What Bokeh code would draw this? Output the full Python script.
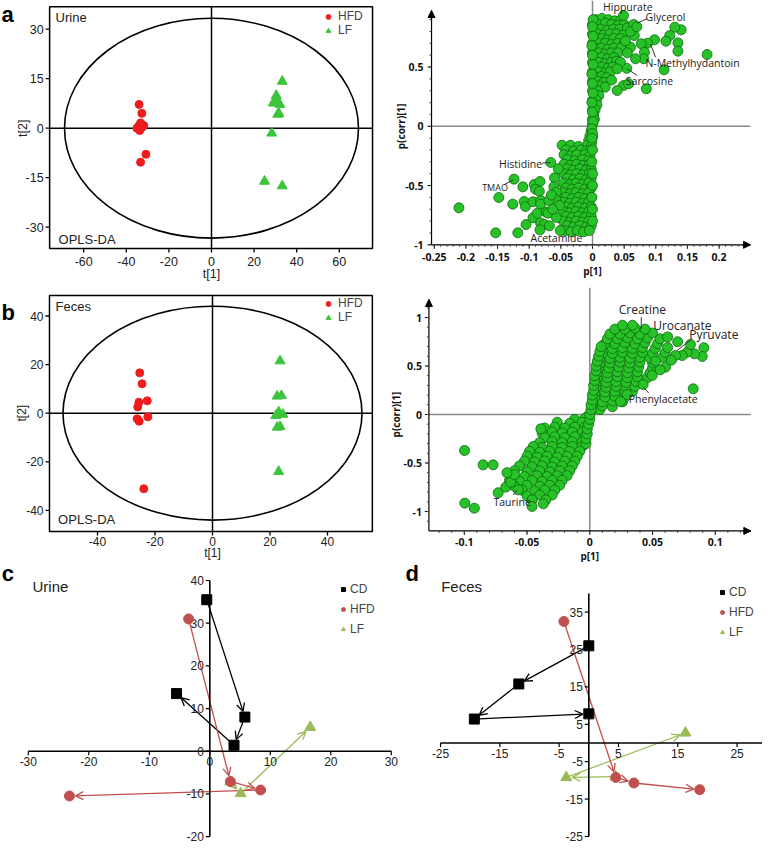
import math
from bokeh.plotting import figure
from bokeh.layouts import row, column
from bokeh.models import Range1d, Legend, LegendItem, Arrow, OpenHead, NormalHead
from bokeh.core.properties import value
from bokeh.embed import file_html
from bokeh.resources import INLINE

ARIAL = "Liberation Sans"
SEGOE = "Open Sans"

# ---------------- DATA ----------------
# (a) Urine OPLS-DA scores
urine_hfd_t1 = [-34.0, -32.7, -33.3, -31.8, -35.0, -33.7, -32.5, -30.8, -33.3, -34.2]
urine_hfd_t2 = [7.2, 4.5, 1.6, 0.8, 0.0, -0.7, 0.3, -7.9, -10.3, 0.6]
urine_lf_t1 = [33.2, 30.4, 29.0, 32.1, 31.1, 31.6, 28.3, 24.9, 33.2, 30.6]
urine_lf_t2 = [14.2, 9.9, 7.6, 7.2, 4.2, 4.5, -1.5, -16.1, -17.5, 8.6]
# (b) Feces OPLS-DA scores
feces_hfd_t1 = [-25.3, -24.5, -25.6, -22.7, -26.0, -22.5, -26.2, -25.5, -23.9]
feces_hfd_t2 = [16.6, 12.1, 4.5, 5.1, 2.6, -1.5, -2.3, -3.3, -31.1]
feces_lf_t1 = [23.5, 22.5, 24.0, 23.0, 24.5, 22.0, 23.5, 22.5, 23.0]
feces_lf_t2 = [21.5, 7.0, 7.2, 0.5, -0.5, -1.0, -5.5, -5.8, -24.0]

# S-plot urine (p[1], p(corr)[1])
splot_u_pos = [
    (0.005, 0.90), (0.015, 0.91), (0.025, 0.90), (0.035, 0.89), (0.045, 0.90),
    (0.0, 0.86), (0.01, 0.86), (0.02, 0.87), (0.03, 0.86), (0.04, 0.85), (0.05, 0.86),
    (0.003, 0.82), (0.013, 0.82), (0.023, 0.81), (0.033, 0.82), (0.043, 0.82), (0.055, 0.83),
    (0.0, 0.78), (0.008, 0.78), (0.018, 0.77), (0.028, 0.78), (0.038, 0.78), (0.048, 0.77),
    (0.004, 0.74), (0.014, 0.74), (0.024, 0.73), (0.034, 0.74), (0.044, 0.74),
    (0.0, 0.70), (0.01, 0.70), (0.02, 0.70), (0.03, 0.69), (0.04, 0.70), (0.05, 0.70),
    (0.004, 0.66), (0.014, 0.66), (0.024, 0.65), (0.034, 0.66), (0.045, 0.66),
    (0.0, 0.62), (0.01, 0.62), (0.02, 0.61), (0.03, 0.62), (0.04, 0.62),
    (0.004, 0.58), (0.014, 0.58), (0.024, 0.57), (0.034, 0.58),
    (0.0, 0.54), (0.01, 0.54), (0.02, 0.53), (0.03, 0.54), (0.038, 0.55),
    (0.004, 0.50), (0.014, 0.50), (0.024, 0.49), (0.032, 0.50),
    (0.0, 0.46), (0.01, 0.46), (0.02, 0.45), (0.028, 0.46),
    (0.004, 0.42), (0.014, 0.42), (0.022, 0.41),
    (0.0, 0.38), (0.008, 0.38), (0.018, 0.37), (0.03, 0.39),
    (0.004, 0.34), (0.012, 0.34), (0.02, 0.33),
    (0.0, 0.30), (0.008, 0.30), (0.003, 0.26), (0.01, 0.26),
    (0.0, 0.22), (0.006, 0.22), (0.002, 0.18), (0.007, 0.18),
    (0.0, 0.14), (0.004, 0.14), (0.002, 0.10), (0.0, 0.06), (0.003, 0.06), (0.0, 0.02),
]
splot_u_neg = [
    (-0.002, -0.04), (-0.004, -0.08), (0.0, -0.09), (-0.006, -0.12), (-0.001, -0.13),
    (-0.048, -0.16), (-0.035, -0.16), (-0.022, -0.17), (-0.008, -0.16), (-0.002, -0.17),
    (-0.042, -0.20), (-0.03, -0.21), (-0.018, -0.20), (-0.01, -0.21), (-0.003, -0.20),
    (-0.045, -0.24), (-0.035, -0.25), (-0.025, -0.24), (-0.012, -0.24), (-0.004, -0.25),
    (-0.04, -0.28), (-0.028, -0.29), (-0.016, -0.28), (-0.006, -0.29),
    (-0.045, -0.32), (-0.035, -0.33), (-0.025, -0.32), (-0.015, -0.33), (-0.005, -0.32),
    (-0.04, -0.36), (-0.03, -0.37), (-0.02, -0.36), (-0.01, -0.37), (-0.002, -0.36),
    (-0.045, -0.40), (-0.035, -0.41), (-0.025, -0.40), (-0.015, -0.41), (-0.005, -0.40),
    (-0.04, -0.44), (-0.03, -0.45), (-0.02, -0.44), (-0.01, -0.45), (-0.002, -0.44),
    (-0.046, -0.48), (-0.036, -0.49), (-0.026, -0.48), (-0.016, -0.49), (-0.006, -0.48),
    (-0.042, -0.52), (-0.032, -0.53), (-0.022, -0.52), (-0.012, -0.53), (-0.002, -0.52),
    (-0.046, -0.56), (-0.036, -0.57), (-0.026, -0.56), (-0.016, -0.57), (-0.006, -0.56),
    (-0.042, -0.60), (-0.032, -0.61), (-0.022, -0.60), (-0.012, -0.61), (-0.002, -0.60),
    (-0.046, -0.64), (-0.036, -0.65), (-0.026, -0.64), (-0.016, -0.65), (-0.006, -0.64),
    (-0.042, -0.68), (-0.032, -0.69), (-0.022, -0.68), (-0.012, -0.69), (-0.002, -0.68),
    (-0.046, -0.72), (-0.036, -0.73), (-0.026, -0.72), (-0.016, -0.73), (-0.006, -0.72),
    (-0.042, -0.76), (-0.032, -0.77), (-0.022, -0.76), (-0.012, -0.77), (-0.002, -0.76),
    (-0.046, -0.80), (-0.036, -0.81), (-0.026, -0.80), (-0.016, -0.81), (-0.006, -0.80),
    (-0.04, -0.84), (-0.03, -0.85), (-0.02, -0.84), (-0.01, -0.85), (-0.002, -0.84),
    (-0.044, -0.88), (-0.034, -0.89), (-0.024, -0.88), (-0.014, -0.89), (-0.005, -0.88),
]
splot_u_core = [
    (0.001, 0.90), (0.0, 0.84), (0.001, 0.76), (-0.001, 0.68), (0.0, 0.60), (0.001, 0.52),
    (-0.001, 0.44), (0.0, 0.36), (0.001, 0.28), (-0.001, 0.20), (0.0, 0.12), (0.001, 0.04),
    (-0.001, -0.02), (0.0, -0.06), (-0.001, -0.10), (0.0, -0.2), (-0.001, -0.3), (0.0, -0.4),
    (0.0, -0.5), (-0.001, -0.6), (0.0, -0.7), (0.0, -0.8),
]
splot_u_out = [
    (-0.211, -0.688), (-0.124, -0.446), (-0.148, -0.601), (-0.126, -0.657), (-0.110, -0.511),
    (-0.108, -0.635), (-0.106, -0.677), (-0.094, -0.637), (-0.092, -0.491), (-0.083, -0.466),
    (-0.090, -0.531), (-0.084, -0.548), (-0.082, -0.626), (-0.082, -0.657), (-0.153, -0.899),
    (-0.118, -0.899), (-0.105, -0.829), (-0.094, -0.772), (-0.087, -0.733), (-0.073, -0.725),
    (-0.070, -0.733), (-0.082, -0.815), (-0.076, -0.829), (-0.068, -0.840), (-0.083, -0.874),
    (-0.066, -0.305), (-0.060, -0.435), (-0.061, -0.511), (-0.057, -0.556), (-0.058, -0.620),
    (-0.052, -0.668), (-0.054, -0.359), (-0.051, -0.879), (-0.057, -0.770), (-0.069, -0.626),
    (-0.065, -0.580), (-0.063, -0.700),
    (0.181, 0.606), (0.140, 0.814), (0.130, 0.836), (0.122, 0.766), (0.116, 0.718),
    (0.135, 0.704), (0.135, 0.634), (0.113, 0.477), (0.098, 0.730), (0.087, 0.701),
    (0.077, 0.696), (0.082, 0.625), (0.081, 0.570), (0.068, 0.570), (0.066, 0.766),
    (0.065, 0.859), (0.085, 0.316), (0.054, 0.490), (0.049, 0.344), (0.057, 0.359),
    (0.039, 0.302), (0.044, 0.541), (0.039, 0.485), (0.060, 0.667), (0.049, 0.935),
    (0.060, 0.800), (0.070, 0.840), (0.055, 0.620), (0.052, 0.720),
]
splot_u_names = ["Hippurate", "Glycerol", "N-Methylhydantoin", "Sarcosine", "Histidine", "TMAO", "Acetamide"]

# S-plot feces
splot_f_pos = [
    (0.001, 0.03), (0.008, 0.05),
    (0.002, 0.08), (0.01, 0.09), (0.018, 0.08),
    (0.003, 0.13), (0.01, 0.13), (0.018, 0.14), (0.026, 0.13),
    (0.004, 0.18), (0.012, 0.18), (0.02, 0.19), (0.028, 0.18),
    (0.004, 0.23), (0.012, 0.23), (0.02, 0.24), (0.028, 0.23), (0.034, 0.24),
    (0.005, 0.28), (0.013, 0.28), (0.021, 0.29), (0.029, 0.28), (0.036, 0.29),
    (0.005, 0.33), (0.013, 0.33), (0.021, 0.34), (0.029, 0.33), (0.037, 0.34),
    (0.006, 0.38), (0.014, 0.38), (0.022, 0.39), (0.030, 0.38), (0.038, 0.39), (0.046, 0.38),
    (0.006, 0.43), (0.014, 0.43), (0.022, 0.44), (0.030, 0.43), (0.038, 0.44), (0.048, 0.43),
    (0.007, 0.48), (0.015, 0.48), (0.023, 0.49), (0.031, 0.48), (0.039, 0.49), (0.050, 0.48),
    (0.008, 0.53), (0.016, 0.53), (0.024, 0.54), (0.032, 0.53), (0.040, 0.54), (0.050, 0.53),
    (0.008, 0.58), (0.016, 0.58), (0.024, 0.59), (0.032, 0.58), (0.040, 0.59), (0.048, 0.58), (0.058, 0.59),
    (0.010, 0.63), (0.018, 0.63), (0.026, 0.64), (0.034, 0.63), (0.042, 0.64), (0.050, 0.63), (0.060, 0.64),
    (0.010, 0.68), (0.018, 0.68), (0.026, 0.69), (0.034, 0.68), (0.042, 0.69), (0.052, 0.68), (0.062, 0.69),
    (0.012, 0.73), (0.020, 0.73), (0.028, 0.74), (0.036, 0.73), (0.044, 0.74), (0.054, 0.73),
    (0.014, 0.78), (0.022, 0.78), (0.030, 0.79), (0.038, 0.78), (0.046, 0.79), (0.056, 0.78),
    (0.016, 0.83), (0.024, 0.83), (0.032, 0.84), (0.040, 0.83), (0.050, 0.84),
    (0.020, 0.88), (0.028, 0.88), (0.036, 0.89), (0.044, 0.88),
    (0.026, 0.92), (0.034, 0.92),
]
splot_f_neg = [
    (-0.002, -0.02), (-0.004, -0.04), (-0.012, -0.05),
    (-0.006, -0.08), (-0.016, -0.09), (-0.026, -0.08),
    (-0.004, -0.13), (-0.012, -0.13), (-0.020, -0.14), (-0.028, -0.13), (-0.036, -0.14),
    (-0.006, -0.18), (-0.014, -0.18), (-0.022, -0.19), (-0.030, -0.18), (-0.038, -0.19),
    (-0.004, -0.23), (-0.012, -0.23), (-0.020, -0.24), (-0.028, -0.23), (-0.036, -0.24),
    (-0.006, -0.28), (-0.014, -0.28), (-0.022, -0.29), (-0.030, -0.28), (-0.040, -0.29),
    (-0.006, -0.33), (-0.014, -0.33), (-0.022, -0.34), (-0.030, -0.33), (-0.038, -0.34), (-0.045, -0.33),
    (-0.008, -0.38), (-0.016, -0.38), (-0.024, -0.39), (-0.032, -0.38), (-0.040, -0.39), (-0.048, -0.38),
    (-0.010, -0.43), (-0.018, -0.43), (-0.026, -0.44), (-0.034, -0.43), (-0.042, -0.44), (-0.050, -0.43),
    (-0.012, -0.48), (-0.020, -0.48), (-0.028, -0.49), (-0.036, -0.48), (-0.044, -0.49), (-0.052, -0.48),
    (-0.014, -0.53), (-0.022, -0.53), (-0.030, -0.54), (-0.038, -0.53), (-0.046, -0.54), (-0.056, -0.53),
    (-0.016, -0.58), (-0.024, -0.58), (-0.032, -0.59), (-0.040, -0.58), (-0.050, -0.59), (-0.060, -0.58),
    (-0.018, -0.63), (-0.026, -0.63), (-0.034, -0.64), (-0.042, -0.63), (-0.052, -0.64),
    (-0.022, -0.68), (-0.030, -0.68), (-0.038, -0.69), (-0.046, -0.68), (-0.056, -0.69), (-0.064, -0.68),
    (-0.024, -0.73), (-0.032, -0.73), (-0.040, -0.74), (-0.050, -0.73), (-0.060, -0.74),
    (-0.028, -0.78), (-0.036, -0.78), (-0.044, -0.79), (-0.054, -0.78),
    (-0.030, -0.83), (-0.040, -0.83), (-0.050, -0.84),
    (-0.035, -0.88), (-0.046, -0.88),
]
splot_f_core = [
    (-0.003, -0.30), (-0.003, -0.25), (-0.002, -0.20), (-0.002, -0.15), (-0.001, -0.10),
    (0.0, -0.05), (0.0, 0.0), (0.001, 0.05), (0.001, 0.10), (0.002, 0.15), (0.002, 0.20),
    (0.003, 0.25), (0.003, 0.30), (0.004, 0.35), (0.004, 0.40), (0.005, 0.45), (0.005, 0.50),
    (0.006, 0.55), (0.007, 0.60), (0.008, 0.65), (0.009, 0.70),
]
splot_f_out = [
    (-0.0998, -0.371), (-0.0996, -0.914), (-0.092, -0.966), (-0.085, -0.519), (-0.077, -0.519),
    (-0.073, -0.807), (-0.067, -0.749), (-0.063, -0.698), (-0.057, -0.777), (-0.046, -0.880),
    (-0.046, -0.948), (-0.037, -0.921), (-0.039, -0.148), (-0.060, -0.620), (-0.066, -0.600),
    (0.0824, 0.265), (0.0909, 0.688), (0.0896, 0.598), (0.0834, 0.626), (0.0776, 0.642),
    (0.0736, 0.608), (0.0683, 0.608), (0.0802, 0.722), (0.0603, 0.488), (0.0524, 0.550),
    (0.0497, 0.402), (0.0425, 0.309), (0.0298, 0.206), (0.0245, 0.134), (0.070, 0.750),
    (0.062, 0.800), (0.065, 0.560), (0.056, 0.460),
]
splot_f_names = ["Creatine", "Urocanate", "Pyruvate", "Phenylacetate", "Taurine"]

# (c) Urine trajectories (x, y per time point)
traj_u_cd_x = [-0.5, 5.8, 4.0, -5.5]
traj_u_cd_y = [35.5, 8.0, 1.4, 13.5]
traj_u_hfd_x = [-3.5, 3.4, 8.4, -23.2]
traj_u_hfd_y = [31.0, -7.1, -9.1, -10.5]
traj_u_lf_x = [3.4, 5.1, 16.6]
traj_u_lf_y = [-7.2, -9.9, 5.6]
# (d) Feces trajectories
traj_f_cd_x = [0.0, -11.8, -19.3, 0.0]
traj_f_cd_y = [26.0, 15.8, 6.4, 7.8]
traj_f_hfd_x = [-4.2, 4.55, 7.6, 18.7]
traj_f_hfd_y = [32.5, -9.2, -10.7, -12.5]
traj_f_lf_x = [4.5, -3.8, 16.3]
traj_f_lf_y = [-9.0, -9.2, 2.7]

# tick values / labels
score_u_xticks = [-60, -40, -20, 0, 20, 40, 60]
score_u_yticks = [-30, -15, 0, 15, 30]
score_f_xticks = [-40, -20, 0, 20, 40]
score_f_yticks = [-40, -20, 0, 20, 40]
splot_u_xticks = [-0.25, -0.2, -0.15, -0.1, -0.05, 0, 0.05, 0.1, 0.15, 0.2]
splot_u_xlabels = ["-0.25", "-0.2", "-0.15", "-0.1", "-0.05", "0", "0.05", "0.1", "0.15", "0.2"]
splot_u_yticks = [-1, -0.5, 0, 0.5]
splot_u_ylabels = ["-1", "-0.5", "0", "0.5"]
splot_f_xticks = [-0.1, -0.05, 0, 0.05, 0.1]
splot_f_xlabels = ["-0.1", "-0.05", "0", "0.05", "0.1"]
splot_f_yticks = [-1, -0.5, 0, 0.5, 1]
splot_f_ylabels = ["-1", "-0.5", "0", "0.5", "1"]
traj_u_xticks = [-30, -20, -10, 0, 10, 20, 30]
traj_u_yticks = [-20, -10, 0, 10, 20, 30, 40]
traj_f_xticks = [-25, -15, -5, 5, 15, 25]
traj_f_yticks = [-25, -15, -5, 5, 15, 25, 35]
groups = ["CD", "HFD", "LF"]

RED = "#ee1c1c"
GREEN = "#3cc43c"
SG_FILL = "#27c227"
SG_LINE = "#0e6a0e"
C_CD = "#000000"
C_HFD = "#c0504d"
C_LF = "#9bbb59"


def frame_fig(w, h, px0, py0, X0, sx, Y0, sy):
    """Figure whose frame fills the whole canvas; page pixel = X0 + sx*x, Y0 - sy*y."""
    xr = ((px0 - X0) / sx, (px0 + w - X0) / sx)
    yr = ((Y0 - (py0 + h)) / sy, (Y0 - py0) / sy)
    p = figure(width=w, height=h, x_range=Range1d(*xr), y_range=Range1d(*yr),
               x_axis_type=None, y_axis_type=None, output_backend="svg",
               toolbar_location=None, min_border=0)
    p.outline_line_color = None
    return p


def txt(p, xs, ys, texts, size, font=ARIAL, align="center", baseline="middle",
        xo=0, yo=0, bold=False, angle=0.0, color="#222222"):
    p.text(x=xs, y=ys, text=texts, text_align=align, text_baseline=baseline,
           x_offset=xo, y_offset=yo, angle=angle, text_font=value(font),
           text_font_size=size, text_font_style="bold" if bold else "normal",
           text_color=color)


def score_plot(w, h, px0, py0, X0, sx, Y0, sy, box, hx, hy, lx, ly, xt, yt,
               ew, eh, name, name_xy, opls_xy, leg_loc, let, let_xy, xl_off, t1_off, fs):
    p = frame_fig(w, h, px0, py0, X0, sx, Y0, sy)
    xl, xr, yb, yt_ = box
    p.ellipse(x=0, y=0, width=ew, height=eh, fill_color=None, line_color="black", line_width=1.6)
    p.segment(x0=[xl, 0], y0=[0, yb], x1=[xr, 0], y1=[0, yt_], line_color="black", line_width=1.5)
    p.quad(left=xl, right=xr, bottom=yb, top=yt_, fill_color=None, line_color="black", line_width=1.5)
    tl = 4.0
    p.segment(x0=xt, y0=[yb] * len(xt), x1=xt, y1=[yb - tl / sy] * len(xt), line_color="black", line_width=1.3)
    p.segment(x0=[xl] * len(yt), y0=yt, x1=[xl - tl / sx] * len(yt), y1=yt, line_color="black", line_width=1.3)
    txt(p, xt, [yb] * len(xt), [str(t) for t in xt], fs, yo=xl_off)
    txt(p, [xl] * len(yt), yt, [str(t) for t in yt], fs, align="right", xo=-6)
    txt(p, [0], [yb], ["t[1]"], fs, yo=t1_off)
    txt(p, [xl], [0], ["t[2]"], fs, xo=-27, angle=math.pi / 2)
    txt(p, [name_xy[0]], [name_xy[1]], [name], "13px", align="left")
    txt(p, [opls_xy[0]], [opls_xy[1]], ["OPLS-DA"], "13px", align="left")
    txt(p, [let_xy[0]], [let_xy[1]], [let], "22px", align="left", baseline="top", bold=True, color="black")
    r1 = p.scatter(hx, hy, marker="circle", size=8, fill_color=RED, line_color=RED)
    r2 = p.scatter(lx, ly, marker="triangle", size=10, fill_color=GREEN, line_color=GREEN)
    leg = Legend(items=[LegendItem(label="HFD", renderers=[r1]), LegendItem(label="LF", renderers=[r2])],
                 location=leg_loc, glyph_width=12, glyph_height=13, label_height=13,
                 label_standoff=4, spacing=0, padding=0, margin=0,
                 border_line_color=None, background_fill_alpha=0,
                 label_text_font=ARIAL, label_text_font_size="12px")
    p.add_layout(leg)
    return p


def s_plot(w, h, px0, py0, X0, sx, Y0, sy, pts, ax_x, ax_y, x_end, y_top,
           xt, xlab, yt, ylab, xminor, yminor, xlab_off, p1_off, ylab_off, pc_off):
    p = frame_fig(w, h, px0, py0, X0, sx, Y0, sy)
    ytop_fig = (Y0 - py0) / sy
    p.segment(x0=[0, ax_x], y0=[ax_y, 0], x1=[0, x_end], y1=[ytop_fig, 0],
              line_color="#8a8a8a", line_width=1.5)
    p.scatter([q[0] for q in pts], [q[1] for q in pts], marker="circle", size=10,
              fill_color=SG_FILL, line_color=SG_LINE, line_width=0.8)
    p.segment(x0=[ax_x, ax_x], y0=[ax_y, ax_y], x1=[ax_x, x_end], y1=[y_top, ax_y],
              line_color="black", line_width=1.2)
    p.add_layout(Arrow(end=NormalHead(size=7, fill_color="black", line_color="black"),
                       x_start=ax_x, y_start=y_top - 8 / sy, x_end=ax_x, y_end=y_top,
                       line_color="black", line_width=1.2))
    p.add_layout(Arrow(end=NormalHead(size=7, fill_color="black", line_color="black"),
                       x_start=x_end - 8 / sx, y_start=ax_y, x_end=x_end, y_end=ax_y,
                       line_color="black", line_width=1.2))
    p.segment(x0=xt, y0=[ax_y] * len(xt), x1=xt, y1=[ax_y - 4 / sy] * len(xt), line_color="black", line_width=1)
    p.segment(x0=xminor, y0=[ax_y] * len(xminor), x1=xminor, y1=[ax_y - 2 / sy] * len(xminor),
              line_color="#444444", line_width=1)
    p.segment(x0=[ax_x] * len(yt), y0=yt, x1=[ax_x - 4 / sx] * len(yt), y1=yt, line_color="black", line_width=1)
    p.segment(x0=[ax_x] * len(yminor), y0=yminor, x1=[ax_x - 2 / sx] * len(yminor), y1=yminor,
              line_color="#444444", line_width=1)
    txt(p, xt, [ax_y] * len(xt), xlab, "10.5px", font=SEGOE, bold=True, yo=xlab_off, color="#111111")
    txt(p, [ax_x] * len(yt), yt, ylab, "10.5px", font=SEGOE, bold=True, align="right", xo=ylab_off, color="#111111")
    txt(p, [0], [ax_y], ["p[1]"], "10px", font=SEGOE, bold=True, yo=p1_off, color="#111111")
    txt(p, [ax_x], [0], ["p(corr)[1]"], "10px", font=SEGOE, bold=True, xo=pc_off, angle=math.pi / 2, color="#111111")
    return p


def add_labels(p, names, pos, sizes):
    for n, (x, y), s in zip(names, pos, sizes):
        txt(p, [x], [y], [n], s, font=SEGOE)


def add_leaders(p, segs):
    p.segment(x0=[s[0] for s in segs], y0=[s[1] for s in segs],
              x1=[s[2] for s in segs], y1=[s[3] for s in segs],
              line_color="#333333", line_width=1)


def traj_plot(w, h, px0, py0, X0, sx, Y0, sy, series, xt, yt, xspan, yspan,
              title, title_xy, let, let_xy, leg_loc):
    p = frame_fig(w, h, px0, py0, X0, sx, Y0, sy)
    p.segment(x0=[xspan[0], 0], y0=[0, yspan[0]], x1=[xspan[1], 0], y1=[0, yspan[1]],
              line_color="black", line_width=1.6)
    tl = 4.0
    p.segment(x0=xt, y0=[0] * len(xt), x1=xt, y1=[-tl / sy] * len(xt), line_color="black", line_width=1.2)
    p.segment(x0=[0] * len(yt), y0=yt, x1=[-tl / sx] * len(yt), y1=yt, line_color="black", line_width=1.2)
    txt(p, xt, [0] * len(xt), [str(t) for t in xt], "12px", baseline="top", yo=6)
    txt(p, [0] * len(yt), yt, [str(t) for t in yt], "12px", align="right", xo=-6)
    txt(p, [title_xy[0]], [title_xy[1]], [title], "15px", align="left")
    txt(p, [let_xy[0]], [let_xy[1]], [let], "22px", align="left", bold=True, color="black")
    for name, xs, ys, color, marker, size in series:
        for i in range(len(xs) - 1):
            x0, y0, x1, y1 = xs[i], ys[i], xs[i + 1], ys[i + 1]
            L = math.hypot((x1 - x0) * sx, (y1 - y0) * sy)
            f = 6.0 / L if L > 0 else 0
            p.add_layout(Arrow(end=OpenHead(size=8, line_color=color, line_width=1.3),
                               x_start=x0, y_start=y0,
                               x_end=x1 - (x1 - x0) * f, y_end=y1 - (y1 - y0) * f,
                               line_color=color, line_width=1.3, level="underlay"))
    rends = {}
    for name, xs, ys, color, marker, size in series:
        rends[name] = p.scatter(xs, ys, marker=marker, size=size, fill_color=color, line_color=color)
    leg = Legend(items=[LegendItem(label=g, renderers=[rends[g]]) for g in groups],
                 location=leg_loc, glyph_width=10, glyph_height=20, label_height=20,
                 label_standoff=2, spacing=0, padding=0, margin=0,
                 border_line_color=None, background_fill_alpha=0,
                 label_text_font=ARIAL, label_text_font_size="12px")
    p.add_layout(leg)
    return p


# ---------------- PANEL a ----------------
pa = score_plot(390, 287, 0, 0, 211, 2.13, 127.7, 3.3, (-76, 75.6, -36.45, 36.8),
                urine_hfd_t1, urine_hfd_t2, urine_lf_t1, urine_lf_t2,
                score_u_xticks, score_u_yticks, 138, 66.6,
                "Urine", (-73.2, 33.5), (-71.8, -33.8), (322, 250), "a", (-98.6, 38.1), 13, 26, "12.5px")

spa = s_plot(372, 287, 390, 0, 592, 633, 125.8, 118.5,
             splot_u_neg + splot_u_pos + splot_u_core + splot_u_out,
             -0.2543, -1.0, 0.2496, 0.977,
             splot_u_xticks, splot_u_xlabels, splot_u_yticks, splot_u_ylabels,
             [round(-0.25 + 0.01 * i, 2) for i in range(50)],
             [round(-1 + 0.1 * i, 1) for i in range(20)], 12, 26, -8, -31)
add_leaders(spa, [(0.086, 0.907, 0.0706, 0.87), (0.0995, 0.583, 0.0916, 0.696),
                  (0.0706, 0.429, 0.0548, 0.485), (-0.0795, -0.311, -0.066, -0.305),
                  (-0.140, -0.494, -0.125, -0.451)])
add_labels(spa, splot_u_names,
           [(0.0558, 1.005), (0.1153, 0.921), (0.158, 0.536), (0.090, 0.381),
            (-0.1137, -0.322), (-0.154, -0.519), (-0.057, -0.941)],
           ["10.5px", "10.5px", "10.5px", "10.5px", "10.5px", "9px", "10.5px"])

# ---------------- PANEL b ----------------
pb = score_plot(390, 275, 0, 287, 212, 2.875, 412.7, 2.43, (-56.7, 55.6, -48.7, 48.4),
                feces_hfd_t1, feces_hfd_t2, feces_lf_t1, feces_lf_t2,
                score_f_xticks, score_f_yticks, 104, 88,
                "Feces", (-54.6, 44.0), (-53.7, -43.7), (322, 238), "b", (-73.4, 46.4), 10, 21, "12px")

spb = s_plot(372, 275, 390, 287, 589.3, 1255, 414, 97,
             splot_f_neg + splot_f_pos + splot_f_core + splot_f_out,
             -0.1282, -1.2, 0.1283, 1.186,
             splot_f_xticks, splot_f_xlabels, splot_f_yticks, splot_f_ylabels,
             [round(-0.12 + 0.01 * i, 2) for i in range(25)],
             [round(-1.1 + 0.1 * i, 1) for i in range(23)], 11, 25, -7, -33)
add_leaders(spb, [(0.041, 1.003, 0.041, 0.884), (0.0816, 0.780, 0.0696, 0.660),
                  (0.047, 0.22, 0.043, 0.28), (-0.061, -0.83, -0.058, -0.78)])
add_labels(spb, splot_f_names,
           [(0.0419, 1.081), (0.0737, 0.916), (0.0988, 0.825), (0.0585, 0.155), (-0.0619, -0.897)],
           ["12px", "12px", "12px", "10.5px", "10.5px"])

# ---------------- PANEL c ----------------
pc = traj_plot(400, 282, 0, 562, 209.3, 6.05, 750.7, 4.267,
               [("CD", traj_u_cd_x, traj_u_cd_y, C_CD, "square", 10),
                ("LF", traj_u_lf_x, traj_u_lf_y, C_LF, "triangle", 11),
                ("HFD", traj_u_hfd_x, traj_u_hfd_y, C_HFD, "circle", 10)],
               traj_u_xticks, traj_u_yticks, (-30, 30), (-20, 40),
               "Urine", (-29.3, 38.6), "c", (-34.4, 41.6), (338, 205))

# ---------------- PANEL d ----------------
pd_ = traj_plot(362, 282, 400, 562, 588.3, 5.93, 742.5, 3.738,
                [("CD", traj_f_cd_x, traj_f_cd_y, C_CD, "square", 10),
                 ("LF", traj_f_lf_x, traj_f_lf_y, C_LF, "triangle", 11),
                 ("HFD", traj_f_hfd_x, traj_f_hfd_y, C_HFD, "circle", 10)],
                traj_f_xticks, traj_f_yticks, (-25, 35), (-25, 40),
                "Feces", (-24.9, 41.9), "d", (-30.9, 45.3), (317, 202))

layout = column(row(pa, spa), row(pb, spb), row(pc, pd_))
open("out.html", "w").write(file_html(layout, INLINE))
